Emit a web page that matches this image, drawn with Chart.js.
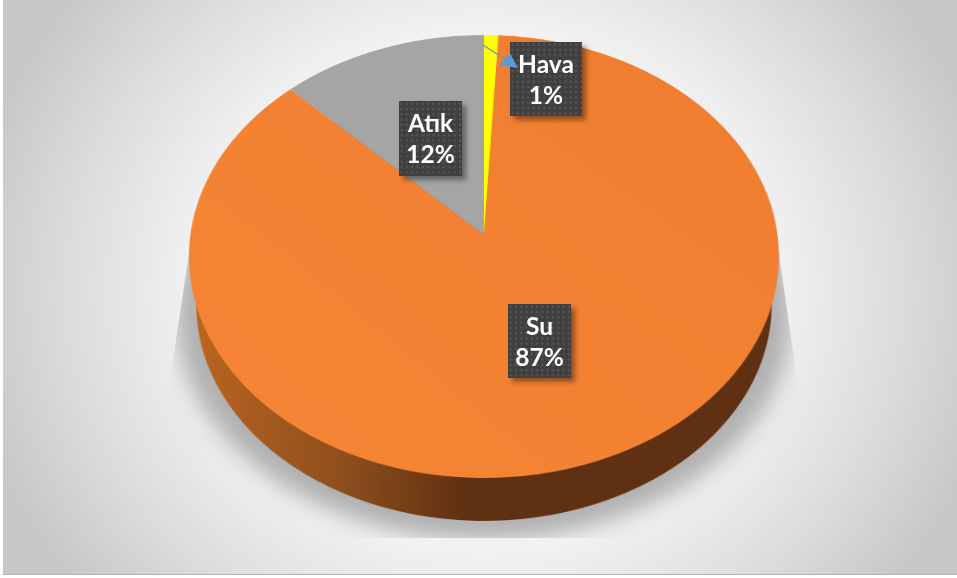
<!DOCTYPE html>
<html>
<head>
<meta charset="utf-8">
<script src="https://cdn.jsdelivr.net/npm/chart.js@4"></script>
<style>
    html, body { margin: 0; padding: 0; background: #fff; }
    #page { position: relative; width: 957px; height: 578px; overflow: hidden; }
    #frame {
        position: absolute; left: 3px; top: 0; width: 954px; height: 574px;
        background: radial-gradient(ellipse 520px 470px at 481px 290px, #fbfbfb 0%, #f2f2f2 55%, #dcdcdc 80%, #c8c8c8 100%);
        border-bottom: 1px solid #b4b4b4;
    }
    #shadowClip {
        position: absolute; left: 0; top: 0; width: 957px; height: 578px;
        clip-path: polygon(191px 240px, 777px 240px, 797px 380px, 797px 538px, 170px 538px, 170px 380px);
    }
    #shadow {
        position: absolute; left: 176px; top: 90px; width: 616px; height: 450px;
        border-radius: 50%; background: #b0b0b0; filter: blur(11px);
    }
    .pie { position: absolute; left: 189px; top: -60px; width: 590px; height: 590px; transform-origin: 295px 295px; }
    #topPie { transform: matrix3d(0.9953,0,0,0, 0,0.7437,0,-0.000329, 0,0,1,0, 0,0,0,1); }
    #wallPie { transform: translate(0, 49px) scale(0.975) matrix3d(0.9953,0,0,0, 0,0.7437,0,-0.000329, 0,0,1,0, 0,0,0,1); }
    .tag {
        position: absolute; box-sizing: border-box; color: #fff; text-align: center;
        font: bold 24.5px/31px Lato, sans-serif; padding-top: 6px;
        background-color: #3f3f3f;
        background-image: radial-gradient(circle at 2.6px 2.6px, #525252 0, #525252 1.2px, transparent 1.6px);
        background-size: 5.3px 5.3px;
        box-shadow: 4px 4px 5px rgba(0,0,0,0.4);
    }
    #arrow { position: absolute; left: 0; top: 0; }
</style>
</head>
<body>
<div id="page">
    <div id="frame"></div>
    <div id="shadowClip"><div id="shadow"></div></div>
    <div class="pie" id="wallPie"><canvas id="wall_chart"></canvas></div>
    <div class="pie" id="topPie"><canvas id="pie_chart"></canvas></div>
    <div id="tags"></div>
    <svg id="arrow" width="957" height="578">
        <line x1="483" y1="45" x2="506" y2="60" stroke="#5b9bd5" stroke-width="1.2"></line>
        <polygon points="510,53 499,65 518,68" fill="#5b9bd5"></polygon>
    </svg>
</div>
<script>
var categories = ["Su", "Atık", "Hava"];
var shares = [86.7, 12.45, 0.85];
var sliceColors = ["#f28030", "#a5a5a5", "#ffff00"];
var tagBoxes = [
    { left: 508, top: 304, width: 63, height: 74 },
    { left: 399, top: 101, width: 63, height: 75 },
    { left: 510, top: 42, width: 72, height: 74 }
];

var total = shares.reduce(function (a, b) { return a + b; }, 0);
var startAngle = (shares[2] / total) * 360;

function makePie(id, colors) {
    var canvas = document.getElementById(id);
    return new Chart(canvas.getContext("2d"), {
        type: "pie",
        data: {
            labels: categories,
            datasets: [{ data: shares, backgroundColor: colors, borderWidth: 0 }],
        },
        options: {
            responsive: false,
            devicePixelRatio: 2,
            animation: false,
            rotation: startAngle,
            layout: { padding: 0 },
            plugins: { legend: { display: false }, tooltip: { enabled: false } },
        },
    });
}

function sizeCanvas(id) {
    var canvas = document.getElementById(id);
    canvas.width = 590;
    canvas.height = 590;
    canvas.style.width = "590px";
    canvas.style.height = "590px";
    return canvas.getContext("2d");
}

// top face, very slight light change over the orange
var topCtx = sizeCanvas("pie_chart");
var topFill = topCtx.createLinearGradient(590, 0, 0, 590);
topFill.addColorStop(0, "#ef7d30");
topFill.addColorStop(1, "#f68636");
makePie("pie_chart", [topFill, sliceColors[1], sliceColors[2]]);

// side wall is the same pie, further back, shaded left to right
var wallCtx = sizeCanvas("wall_chart");
var wallFill = wallCtx.createLinearGradient(0, 0, 590, 0);
wallFill.addColorStop(0, "#bd6622");
wallFill.addColorStop(0.27, "#8f4f1d");
wallFill.addColorStop(0.47, "#5f3112");
wallFill.addColorStop(1, "#5f3112");
makePie("wall_chart", [wallFill, "#5f3112", "#5f3112"]);

var tags = document.getElementById("tags");
categories.forEach(function (name, i) {
    var box = tagBoxes[i];
    var tag = document.createElement("div");
    tag.className = "tag";
    tag.style.left = box.left + "px";
    tag.style.top = box.top + "px";
    tag.style.width = box.width + "px";
    tag.style.height = box.height + "px";
    tag.innerHTML = name + "<br>" + Math.round((shares[i] / total) * 100) + "%";
    tags.appendChild(tag);
});
</script>
</body>
</html>
